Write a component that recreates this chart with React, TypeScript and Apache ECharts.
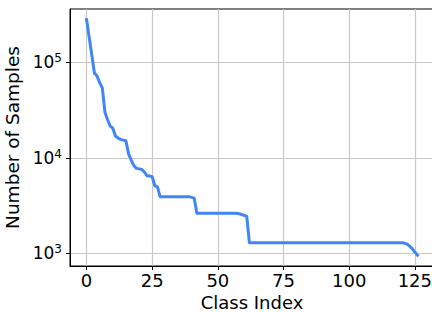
import React, { useEffect, useRef } from "react";
import * as echarts from "echarts";

// Number of samples per class (sorted, long-tail)
const samples: number[] = [
  280000, 183000, 119000, 77000, 72000, 61000, 54000, 30000, 25000, 21500,
  20400, 16900, 16100, 15600, 15300, 15100, 11000, 9500, 8300, 7750,
  7650, 7550, 7100, 6500, 6450, 6350, 5100, 4950,
  3920, 3920, 3920, 3920, 3920, 3920, 3920, 3920, 3920, 3920, 3920, 3920,
  3850, 3780,
  2620, 2620, 2620, 2620, 2620, 2620, 2620, 2620, 2620, 2620, 2620, 2620, 2620, 2620, 2620, 2620,
  2600, 2550, 2500, 2430,
  1290, 1290, 1290, 1290, 1290, 1290, 1290, 1290, 1290, 1290,
  1290, 1290, 1290, 1290, 1290, 1290, 1290, 1290, 1290, 1290,
  1290, 1290, 1290, 1290, 1290, 1290, 1290, 1290, 1290, 1290,
  1290, 1290, 1290, 1290, 1290, 1290, 1290, 1290, 1290, 1290,
  1290, 1290, 1290, 1290, 1290, 1290, 1290, 1290, 1290, 1290,
  1290, 1290, 1290, 1290, 1290, 1290, 1290, 1290, 1290,
  1280, 1250, 1190, 1120, 1030, 955,
];

const xTicks: number[] = [0, 25, 50, 75, 100, 125];
const yTicks: number[] = [1000, 10000, 100000];
const xRange: number[] = [-6.3, 132.3];
const yRange: number[] = [736, 361400];

const FONT = "DejaVu Sans";

export default function App() {
  const ref = useRef<HTMLDivElement>(null);

  useEffect(() => {
    if (!ref.current) return;
    const chart = echarts.init(ref.current, undefined, { renderer: "svg" });
    const data = samples.map((v, i) => [i, v]);
    chart.setOption({
      animation: false,
      backgroundColor: "#fff",
      grid: {
        left: 70,
        top: 9,
        right: 6,
        bottom: 46,
        show: true,
        borderColor: "#000",
        borderWidth: 1,
        backgroundColor: "transparent",
        containLabel: false,
        outerBoundsMode: "none",
      },
      xAxis: {
        type: "value",
        min: xRange[0],
        max: xRange[1],
        name: "Class Index",
        nameLocation: "middle",
        nameGap: 26,
        nameTextStyle: { fontFamily: FONT, fontSize: 18, color: "#000" },
        axisLine: { show: true, onZero: false, lineStyle: { color: "#000", width: 1 } },
        axisTick: { show: true, length: 4, lineStyle: { color: "#000", width: 1 }, customValues: xTicks },
        axisLabel: {
          customValues: xTicks,
          fontFamily: FONT,
          fontSize: 18,
          color: "#000",
          margin: 5,
        },
        splitLine: { show: true, lineStyle: { color: "#c8c8c8", width: 1.2 } },
      },
      yAxis: {
        type: "log",
        logBase: 10,
        min: yRange[0],
        max: yRange[1],
        name: "Number of Samples",
        nameLocation: "middle",
        nameGap: 44,
        nameTextStyle: { fontFamily: FONT, fontSize: 18.5, color: "#000" },
        axisLine: { show: true, onZero: false, lineStyle: { color: "#000", width: 1 } },
        axisTick: { show: true, length: 4, lineStyle: { color: "#000", width: 1 }, customValues: yTicks },
        axisLabel: {
          customValues: yTicks,
          margin: 8,
          fontFamily: FONT,
          color: "#000",
          formatter: (v: number) => {
            const e = Math.round(Math.log10(v));
            return `{b|10}{s|${e}}`;
          },
          rich: {
            b: { fontFamily: FONT, fontSize: 17, color: "#000", lineHeight: 20 },
            s: { fontFamily: FONT, fontSize: 12, color: "#000", verticalAlign: "top", lineHeight: 20 },
          },
        },
        splitLine: { show: true, lineStyle: { color: "#c8c8c8", width: 1.2 } },
      },
      series: [
        {
          type: "line",
          data,
          showSymbol: false,
          symbol: "none",
          lineStyle: { color: "#4285F4", width: 3, join: "round", cap: "square" },
          clip: true,
        },
      ],
    });
    return () => chart.dispose();
  }, []);

  return (
    <div
      ref={ref}
      style={{ position: "fixed", left: 0, top: 0, width: 440, height: 312, background: "#fff" }}
    />
  );
}
